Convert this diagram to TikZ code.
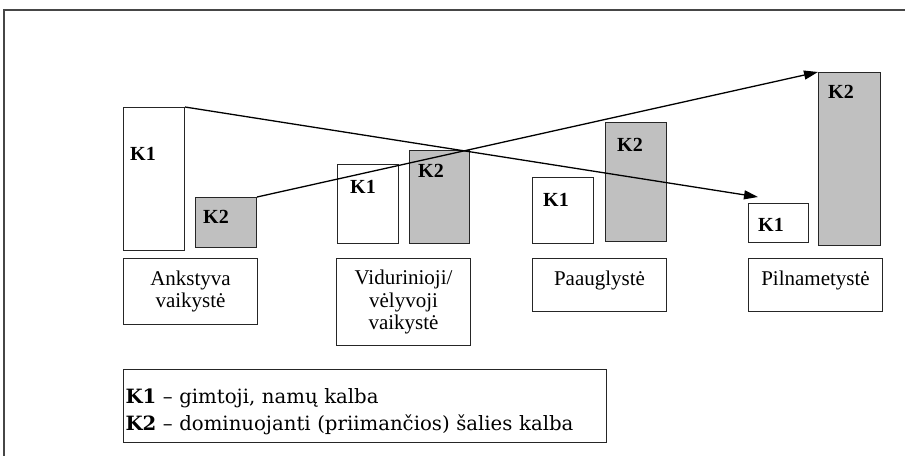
\documentclass[tikz,border=0pt]{standalone}
\usepackage{fontspec}
\setmainfont{Liberation Serif}
\newfontfamily\legfont{DejaVu Serif}
\usetikzlibrary{arrows.meta}
\definecolor{bargray}{RGB}{192,192,192}
\definecolor{framegray}{RGB}{70,70,70}
\tikzset{
  bar/.style={draw=black!85, line width=1pt, anchor=north west, inner sep=0pt},
  klab/.style={anchor=north west, inner sep=0pt, font=\fontsize{20}{22}\selectfont\bfseries},
  agebox/.style={draw=black!85, line width=1pt, anchor=north west, align=center,
    minimum width=134pt, font=\fontsize{21}{22.5}\selectfont},
  trend/.style={line width=1.3pt, -{Triangle[length=14pt,width=9pt]}}
}
\begin{document}
\begin{tikzpicture}[x=1pt,y=-1pt]
  \useasboundingbox (0,0) rectangle (905,456);
  \draw[framegray, line width=1.5pt] (905,10) -- (4,10) -- (4,456);
  \foreach \nm/\x/\y/\w/\h/\fc/\lab/\dx/\dy in
    {k1a/123/107/61/143/white/K1/7/40, k2a/195/197/61/50/bargray/K2/8/13,
     k1b/337/164/61/79/white/K1/13/16, k2b/409/150/60/93/bargray/K2/9/14,
     k1c/532/177/61/66/white/K1/11/16, k2c/605/122/61/119/bargray/K2/12/16,
     k1d/748/203/60/39/white/K1/10/15, k2d/818/72/62/173/bargray/K2/10/13}
  {\node[bar, fill=\fc, minimum width=\w, minimum height=\h] (\nm) at (\x,\y) {};
   \node[klab] (\nm t) at (\x+\dx,\y+\dy) {\lab};
  }
  \node[agebox, minimum height=66pt] (early) at (123,258) {Ankstyva\\vaikystė};
  \node[agebox, minimum height=87pt] (middle) at (336,258) {Vidurinioji/\\vėlyvoji\\vaikystė};
  \node[agebox, minimum height=53pt, text depth=14pt] (teen) at (532,258) {Paauglystė};
  \node[agebox, minimum height=53pt, text depth=14pt] (adult) at (748,258) {Pilnametystė};
  \coordinate (k1tip) at (758,197);
  \draw[trend] (k1a.north east) -- (k1tip);
  \draw[trend] (k2a.north east) -- (k2d.north west);
  \node[draw=black!85, line width=1pt, anchor=north west, inner xsep=2pt,
    text width=479pt, minimum height=73pt, align=left, text height=27pt,
    font=\legfont\fontsize{19.7}{27}\selectfont] (legend) at (123,369)
    {\textbf{K1} – gimtoji, namų kalba\\\textbf{K2} – dominuojanti (priimančios) šalies kalba};
\end{tikzpicture}
\end{document}
